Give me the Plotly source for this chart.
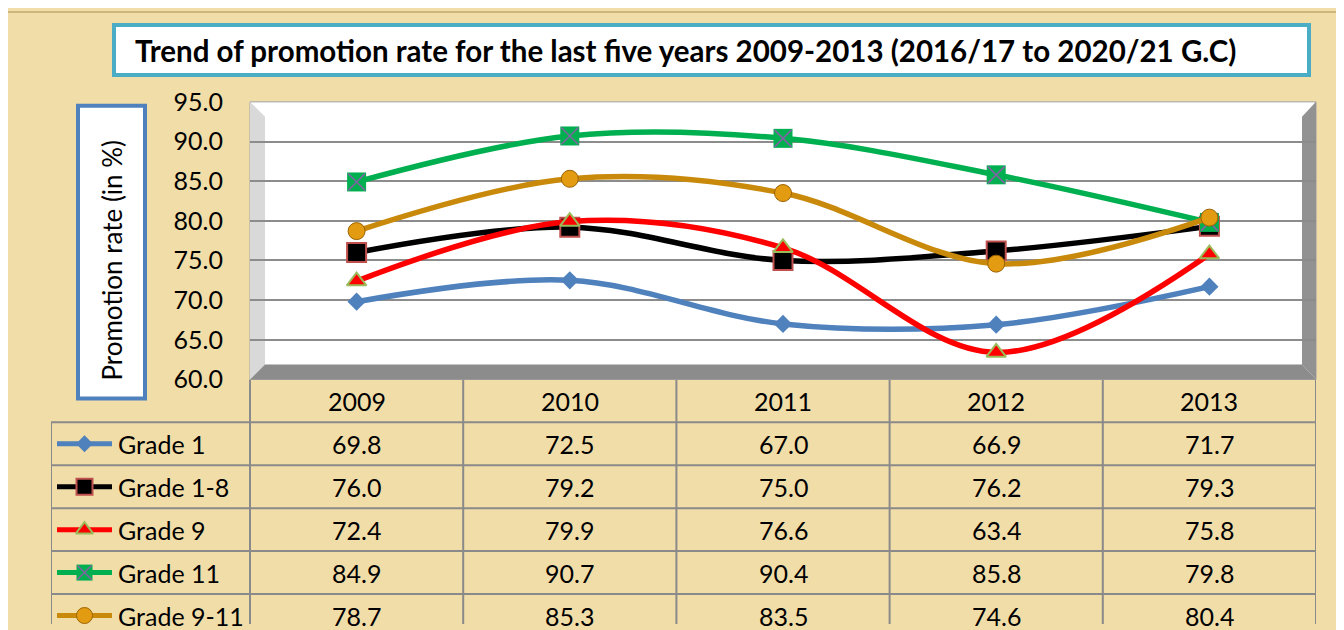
import plotly.graph_objects as go

# ---------------- data ----------------
years = ["2009", "2010", "2011", "2012", "2013"]
series_names = ["Grade 1", "Grade 1-8", "Grade 9", "Grade 11", "Grade 9-11"]
grade1 = [69.8, 72.5, 67.0, 66.9, 71.7]
grade1_8 = [76.0, 79.2, 75.0, 76.2, 79.3]
grade9 = [72.4, 79.9, 76.6, 63.4, 75.8]
grade11 = [84.9, 90.7, 90.4, 85.8, 79.8]
grade9_11 = [78.7, 85.3, 83.5, 74.6, 80.4]
series_values = [grade1, grade1_8, grade9, grade11, grade9_11]
y_ticks = [60, 65, 70, 75, 80, 85, 90, 95]
title_text = "Trend of promotion rate for the last five years 2009-2013 (2016/17 to 2020/21 G.C)"
y_title = "Promotion rate (in %)"

# ---------------- styles ----------------
line_colors = ["#4F81BD", "#000000", "#FF0000", "#00B050", "#C98A0C"]
marker_symbols = ["diamond", "square", "triangle-up", "square", "circle"]
marker_colors = ["#4F81BD", "#000000", "#FF0000", "#00B050", "#E39B12"]
marker_lines = ["#4F81BD", "#C0504D", "#9BBB59", "#00B050", "#9A6200"]
marker_line_w = [0, 2, 2, 0, 1]
marker_sizes = [14, 19, 17, 19, 17]
key_sizes = [13, 16, 15, 16, 16]

W, H = 1344, 630
FONT = "Lato"
FS = 25
PARCH = "#F1DDA8"
# layout positions are given in target-picture pixels and mapped to paper space
OX, OY, SPAN_Y = 8, 22, 601
PX0, PX1, PY0, PY1 = 250, 1316, 100, 378   # plot box
TX0 = 51                                    # table left edge
ROW_H = 43
COL_W = (PX1 - PX0) / 5


def fx(p):
    return (p - OX) / W


def fy(p):
    return 1 - (p - OY) / SPAN_Y


def x2(p):
    return -0.5 + (p - PX0) / COL_W


fig = go.Figure()

# main chart series
for name, vals, lc, ms, mc, ml, mlw, msz in zip(series_names, series_values, line_colors, marker_symbols,
                                                marker_colors, marker_lines, marker_line_w, marker_sizes):
    fig.add_trace(go.Scatter(
        x=years, y=vals, mode="lines+markers", name=name, showlegend=False,
        line=dict(color=lc, width=5.5, shape="spline", smoothing=1.0),
        marker=dict(symbol=ms, size=msz, color=mc, line=dict(color=ml, width=mlw)),
        xaxis="x", yaxis="y", cliponaxis=False))
    if name == "Grade 11":
        fig.add_trace(go.Scatter(
            x=years, y=vals, mode="markers", showlegend=False, hoverinfo="skip",
            marker=dict(symbol="x-thin", size=msz - 2, line=dict(color="#8064A2", width=1.6)),
            xaxis="x", yaxis="y", cliponaxis=False))

# legend keys inside the data table
for r, (name, lc, ms, mc, ml, mlw, ksz) in enumerate(zip(series_names, line_colors, marker_symbols,
                                                        marker_colors, marker_lines, marker_line_w, key_sizes)):
    fig.add_trace(go.Scatter(
        x=[x2(57), x2(112)], y=[r, r], mode="lines", showlegend=False, hoverinfo="skip",
        line=dict(color=lc, width=5), xaxis="x2", yaxis="y2", cliponaxis=False))
    fig.add_trace(go.Scatter(
        x=[x2(84.5)], y=[r], mode="markers", showlegend=False, hoverinfo="skip",
        marker=dict(symbol=ms, size=ksz, color=mc, line=dict(color=ml, width=mlw)),
        xaxis="x2", yaxis="y2", cliponaxis=False))
    if name == "Grade 11":
        fig.add_trace(go.Scatter(
            x=[x2(84.5)], y=[r], mode="markers", showlegend=False, hoverinfo="skip",
            marker=dict(symbol="x-thin", size=ksz - 2, line=dict(color="#8064A2", width=1.5)),
            xaxis="x2", yaxis="y2", cliponaxis=False))

annotations = []
# table header years
for i, yr in enumerate(years):
    annotations.append(dict(x=i, y=-1, xref="x2", yref="y2", text=yr, showarrow=False,
                            xanchor="center", yanchor="middle",
                            font=dict(family=FONT, size=FS, color="#000000")))
# table values + row labels
for r, (name, vals) in enumerate(zip(series_names, series_values)):
    annotations.append(dict(x=x2(116), y=r, xref="x2", yref="y2", text=name, showarrow=False,
                            xanchor="left", yanchor="middle",
                            font=dict(family=FONT, size=FS, color="#000000")))
    for i, v in enumerate(vals):
        annotations.append(dict(x=i, y=r, xref="x2", yref="y2", text=f"{v:.1f}", showarrow=False,
                                xanchor="center", yanchor="middle",
                                font=dict(family=FONT, size=FS, color="#000000")))
# title
annotations.append(dict(x=fx(685), y=fy(49), xref="paper", yref="paper", text=f"<b>{title_text}</b>",
                        showarrow=False, xanchor="center", yanchor="middle",
                        font=dict(family=FONT, size=29.5, color="#000000")))
annotations.append(dict(x=fx(112), y=fy(259), xref="paper", yref="paper", text=y_title,
                        textangle=-90, showarrow=False, xanchor="center", yanchor="middle",
                        font=dict(family=FONT, size=26, color="#000000")))

shapes = []
# parchment background
shapes.append(dict(type="rect", xref="paper", yref="paper", x0=fx(7), x1=fx(1352), y0=fy(10), y1=fy(640),
                   fillcolor=PARCH, line=dict(color="#CDB57C", width=2), layer="below"))
# title box
shapes.append(dict(type="rect", xref="paper", yref="paper", x0=fx(114), x1=fx(1309), y0=fy(23), y1=fy(73),
                   fillcolor="#FFFFFF", line=dict(color="#4BACC6", width=4), layer="below"))
# y title box
shapes.append(dict(type="rect", xref="paper", yref="paper", x0=fx(78), x1=fx(145), y0=fy(104), y1=fy(397),
                   fillcolor="#FFFFFF", line=dict(color="#4F81BD", width=4), layer="below"))
# plot box (white)
shapes.append(dict(type="rect", xref="paper", yref="paper", x0=fx(PX0), x1=fx(PX1), y0=fy(PY0), y1=fy(PY1),
                   fillcolor="#FFFFFF", line=dict(color="#A0A0A0", width=1), layer="below"))


def poly(pts):
    return "M " + " L ".join(f"{fx(a):.5f},{fy(b):.5f}" for a, b in pts) + " Z"


shapes.append(dict(type="path", xref="paper", yref="paper",
                   path=poly([(PX0, PY0), (PX0 + 15, PY0 + 15), (PX0 + 15, PY1 - 15), (PX0, PY1)]),
                   fillcolor="#D9D9D9", line=dict(width=0), layer="below"))
shapes.append(dict(type="path", xref="paper", yref="paper",
                   path=poly([(PX1 - 14, PY0 + 15), (PX1, PY0), (PX1, PY1), (PX1 - 14, PY1 - 15)]),
                   fillcolor="#929292", line=dict(width=0), layer="below"))
shapes.append(dict(type="path", xref="paper", yref="paper",
                   path=poly([(PX0, PY1), (PX0 + 15, PY1 - 15), (PX1 - 14, PY1 - 15), (PX1, PY1)]),
                   fillcolor="#8C8C8C", line=dict(width=0), layer="below"))

# table grid
GRID = dict(color="#8A8A8A", width=2)
xl = x2(TX0)
for k in range(6):
    yy = -0.5 + k
    shapes.append(dict(type="line", xref="x2", yref="y2", x0=xl, x1=4.5, y0=yy, y1=yy, line=GRID))
for k in range(6):
    xx = -0.5 + k
    shapes.append(dict(type="line", xref="x2", yref="y2", x0=xx, x1=xx, y0=-1.5, y1=6, line=GRID))
shapes.append(dict(type="line", xref="x2", yref="y2", x0=xl, x1=xl, y0=-0.5, y1=6, line=GRID))

y2_bottom = -1.5 + (OY + SPAN_Y - PY1) / ROW_H

fig.update_layout(
    width=W, height=H, margin=dict(l=0, r=0, t=0, b=0, pad=0), autosize=False,
    paper_bgcolor=PARCH, plot_bgcolor="rgba(0,0,0,0)",
    showlegend=False,
    xaxis=dict(domain=[fx(PX0), fx(PX1)], type="category", range=[-0.5, 4.5],
               showticklabels=False, showgrid=False, zeroline=False, showline=False, fixedrange=True),
    yaxis=dict(domain=[fy(PY1), fy(PY0)], range=[60, 95], tickvals=y_ticks,
               ticktext=[f"{v:.1f}" for v in y_ticks], showgrid=True, gridcolor="#8C8C8C", gridwidth=2,
               zeroline=False, showline=False, ticks="outside", ticklen=21, tickcolor="rgba(0,0,0,0)",
               tickfont=dict(family=FONT, size=FS, color="#000000")),
    xaxis2=dict(domain=[fx(TX0), fx(PX1)], range=[xl, 4.5], anchor="y2", visible=False),
    yaxis2=dict(domain=[0, fy(PY1)], range=[y2_bottom, -1.5], anchor="x2", visible=False),
    annotations=annotations, shapes=shapes,
)

fig.write_html("out.html")
